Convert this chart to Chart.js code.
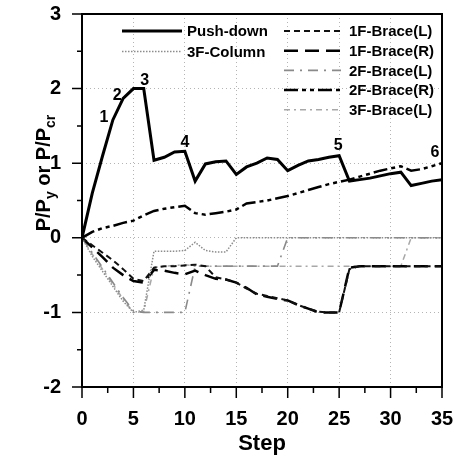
<!DOCTYPE html>
<html>
<head>
<meta charset="utf-8">
<script src="https://cdn.jsdelivr.net/npm/chart.js@4/dist/chart.umd.min.js"></script>
<style>
  html, body { margin: 0; padding: 0; background: #fff; }
  #wrap { width: 454px; height: 459px; position: relative; }
</style>
</head>
<body>
<div id="wrap"><canvas id="chart"></canvas></div>
<script>
/* Push-down test: member force ratios vs load step. */
const FONT = '"Liberation Sans", Arial, sans-serif';

const steps = [0, 1, 2, 3, 4, 5, 6, 7, 8, 9, 10, 11, 12, 13, 14, 15, 16, 17,
  18, 19, 20, 21, 22, 23, 24, 25, 26, 27, 28, 29, 30, 31, 32, 33, 34, 35];

const pushDown = [0, 0.6, 1.1, 1.58, 1.87, 2.0, 2.0, 1.04, 1.08, 1.15, 1.16, 0.76,
  0.99, 1.02, 1.03, 0.85, 0.95, 1.0, 1.07, 1.05, 0.9, 0.97, 1.03, 1.05, 1.08, 1.1,
  0.76, 0.78, 0.8, 0.83, 0.86, 0.88, 0.7, 0.73, 0.76, 0.78];

const column3F = [0, -0.25, -0.45, -0.65, -0.85, -1.0, -0.97, -0.18, -0.18, -0.18,
  -0.17, -0.06, -0.17, -0.19, -0.19, 0, 0, 0, 0, 0, 0, 0, 0, 0, 0, 0,
  0, 0, 0, 0, 0, 0, 0, 0, 0, 0];

const brace1FL = [0, -0.1, -0.2, -0.3, -0.42, -0.55, -0.58, -0.4, -0.38, -0.38,
  -0.37, -0.36, -0.38, -0.53, -0.56, -0.6, -0.68, -0.75, -0.78, -0.81, -0.84, -0.9,
  -0.95, -0.99, -1.0, -1.0, -0.42, -0.38, -0.38, -0.38, -0.38, -0.38, -0.38, -0.38,
  -0.38, -0.38];

const brace1FR = [0, -0.13, -0.26, -0.4, -0.5, -0.58, -0.6, -0.43, -0.44, -0.47,
  -0.49, -0.44, -0.5, -0.55, -0.56, -0.6, -0.67, -0.76, -0.79, -0.82, -0.84, -0.9,
  -0.95, -1.0, -1.0, -1.0, -0.4, -0.38, -0.38, -0.38, -0.38, -0.38, -0.38, -0.38,
  -0.38, -0.38];

const brace2FL = [0, -0.2, -0.4, -0.6, -0.8, -0.98, -1.0, -1.0, -1.0, -1.0, -1.0,
  -0.38, -0.38, -0.38, -0.38, -0.38, -0.38, -0.38, -0.38, -0.38, 0, 0, 0, 0, 0, 0,
  0, 0, 0, 0, 0, 0, 0, 0, 0, 0];

const brace2FR = [0, 0.08, 0.13, 0.16, 0.2, 0.23, 0.3, 0.36, 0.39, 0.41, 0.43,
  0.33, 0.31, 0.33, 0.35, 0.38, 0.46, 0.48, 0.5, 0.53, 0.56, 0.6, 0.64, 0.68, 0.72,
  0.75, 0.78, 0.82, 0.86, 0.9, 0.93, 0.96, 0.9, 0.92, 0.96, 1.0];

const brace3FL = [0, -0.22, -0.42, -0.62, -0.82, -1.0, -0.99, -0.4, -0.38, -0.37,
  -0.36, -0.38, -0.38, -0.38, -0.38, -0.38, -0.38, -0.38, -0.38, -0.38, -0.38, -0.38,
  -0.38, -0.38, -0.38, -0.38, -0.38, -0.38, -0.38, -0.38, -0.38, -0.38, 0, 0, 0, 0];

const yTicks = [-2, -1, 0, 1, 2, 3];
const xTicks = [0, 5, 10, 15, 20, 25, 30, 35];

// numbered points on the push-down curve ("6" sits on 2F-Brace(R))
const markText = ['1', '2', '3', '4', '5', '6'];
const markStep = [3, 4, 6, 10, 25, 35];
const markValue = [pushDown[3], pushDown[4], pushDown[6], pushDown[10], pushDown[25], brace2FR[35]];
const markOffset = [[-9, -2], [-6, -3], [1, -8], [0, -9], [-1, -10], [-7, -11]];

function pts(vals) {
  return steps.map((s, i) => ({ x: s, y: vals[i] }));
}

const datasets = [
  { label: 'Push-down', data: pts(pushDown), borderColor: '#000', borderWidth: 3, borderDash: [] },
  { label: '3F-Column', data: pts(column3F), borderColor: '#8c8c8c', borderWidth: 1.5, borderDash: [1.5, 1.5] },
  { label: '1F-Brace(L)', data: pts(brace1FL), borderColor: '#111', borderWidth: 2, borderDash: [6, 4] },
  { label: '1F-Brace(R)', data: pts(brace1FR), borderColor: '#000', borderWidth: 2.5, borderDash: [14, 7] },
  { label: '2F-Brace(L)', data: pts(brace2FL), borderColor: '#8a8a8a', borderWidth: 1.6, borderDash: [10, 6, 2, 6] },
  { label: '2F-Brace(R)', data: pts(brace2FR), borderColor: '#000', borderWidth: 2.5, borderDash: [14, 4, 4, 4, 4, 4] },
  { label: '3F-Brace(L)', data: pts(brace3FL), borderColor: '#a8a8a8', borderWidth: 1.5, borderDash: [6, 4, 2, 4] },
].map(d => Object.assign(d, { pointRadius: 0, tension: 0, fill: false }));

const legendLeft = ['Push-down', '3F-Column'];
const legendRight = ['1F-Brace(L)', '1F-Brace(R)', '2F-Brace(L)', '2F-Brace(R)', '3F-Brace(L)'];

const decor = {
  id: 'decor',
  afterDraw(chart) {
    const ctx = chart.ctx;
    const xs = chart.scales.x, ys = chart.scales.y;
    const a = chart.chartArea;
    ctx.save();

    // frame
    ctx.strokeStyle = '#000';
    ctx.lineWidth = 2;
    ctx.setLineDash([]);
    ctx.strokeRect(a.left, a.top, a.right - a.left, a.bottom - a.top);

    // major + minor tick marks, outward
    ctx.lineWidth = 1.5;
    ctx.beginPath();
    yTicks.forEach((v, i) => {
      const y = ys.getPixelForValue(v);
      ctx.moveTo(a.left - 10, y); ctx.lineTo(a.left, y);
      if (i < yTicks.length - 1) {
        const ym = ys.getPixelForValue(v + 0.5);
        ctx.moveTo(a.left - 5, ym); ctx.lineTo(a.left, ym);
      }
    });
    xTicks.forEach((v, i) => {
      const x = xs.getPixelForValue(v);
      ctx.moveTo(x, a.bottom); ctx.lineTo(x, a.bottom + 11);
      if (i < xTicks.length - 1) {
        const xm = xs.getPixelForValue(v + 2.5);
        ctx.moveTo(xm, a.bottom); ctx.lineTo(xm, a.bottom + 6);
      }
    });
    ctx.stroke();

    // numbered markers
    ctx.fillStyle = '#000';
    ctx.font = 'bold 16px ' + FONT;
    ctx.textAlign = 'center';
    ctx.textBaseline = 'middle';
    markText.forEach((t, i) => {
      const x = xs.getPixelForValue(markStep[i]) + markOffset[i][0];
      const y = ys.getPixelForValue(markValue[i]) + markOffset[i][1];
      ctx.fillText(t, x, y);
    });

    // legend, two columns
    const byLabel = {};
    chart.data.datasets.forEach(d => { byLabel[d.label] = d; });
    function entry(label, x0, x1, tx, y) {
      const d = byLabel[label];
      ctx.strokeStyle = d.borderColor;
      ctx.lineWidth = d.borderWidth;
      ctx.setLineDash(d.borderDash);
      ctx.beginPath(); ctx.moveTo(x0, y); ctx.lineTo(x1, y); ctx.stroke();
      ctx.setLineDash([]);
      ctx.fillStyle = '#000';
      ctx.font = 'bold 15px ' + FONT;
      ctx.textAlign = 'left';
      ctx.textBaseline = 'middle';
      ctx.fillText(label, tx, y + 1);
    }
    legendLeft.forEach((l, i) => entry(l, 122, 182, 187, 31 + i * 20.5));
    legendRight.forEach((l, i) => entry(l, 284, 341, 349, 31 + i * 19.7));

    // y axis title with subscripts
    ctx.translate(43, 173);
    ctx.rotate(-Math.PI / 2);
    ctx.fillStyle = '#000';
    ctx.textAlign = 'left';
    ctx.textBaseline = 'alphabetic';
    const big = 'bold 20px ' + FONT, small = 'bold 14px ' + FONT;
    const parts = [['P/P', big, 0], ['y', small, 5], [' or P/P', big, 0], ['cr', small, 5]];
    let w = 0;
    parts.forEach(p => { ctx.font = p[1]; w += ctx.measureText(p[0]).width; });
    let x = -w / 2;
    parts.forEach(p => {
      ctx.font = p[1];
      ctx.fillText(p[0], x, 7 + p[2]);
      x += ctx.measureText(p[0]).width;
    });
    ctx.restore();
  }
};

Chart.defaults.font.family = FONT;
Chart.defaults.color = '#000';

new Chart(document.getElementById('chart'), {
  type: 'line',
  data: { datasets: datasets },
  options: {
    responsive: true,
    maintainAspectRatio: false,
    animation: false,
    layout: { padding: { top: 14, right: 12, left: 0, bottom: 0 } },
    plugins: { legend: { display: false }, tooltip: { enabled: false } },
    scales: {
      x: {
        type: 'linear', min: 0, max: 35,
        afterFit: (s) => { s.height = 72; s.paddingLeft = 0; s.paddingRight = 0; },
        afterBuildTicks: (s) => { s.ticks = xTicks.map(v => ({ value: v })); },
        ticks: { font: { size: 20, weight: 'bold' }, padding: 20, maxRotation: 0 },
        grid: { color: '#b4b4b4', lineWidth: 1, drawTicks: false },
        border: { display: false, dash: [1, 3] },
        title: { display: true, text: 'Step', font: { size: 22, weight: 'bold' }, padding: { top: 0, bottom: 2 } },
      },
      y: {
        min: -2, max: 3,
        afterFit: (s) => { s.width = 82; s.paddingTop = 0; s.paddingBottom = 0; },
        afterBuildTicks: (s) => { s.ticks = yTicks.map(v => ({ value: v })); },
        ticks: { font: { size: 20, weight: 'bold' }, padding: 21 },
        grid: { color: '#b4b4b4', lineWidth: 1, drawTicks: false },
        border: { display: false, dash: [1, 3] },
      },
    },
  },
  plugins: [decor],
});
</script>
</body>
</html>
